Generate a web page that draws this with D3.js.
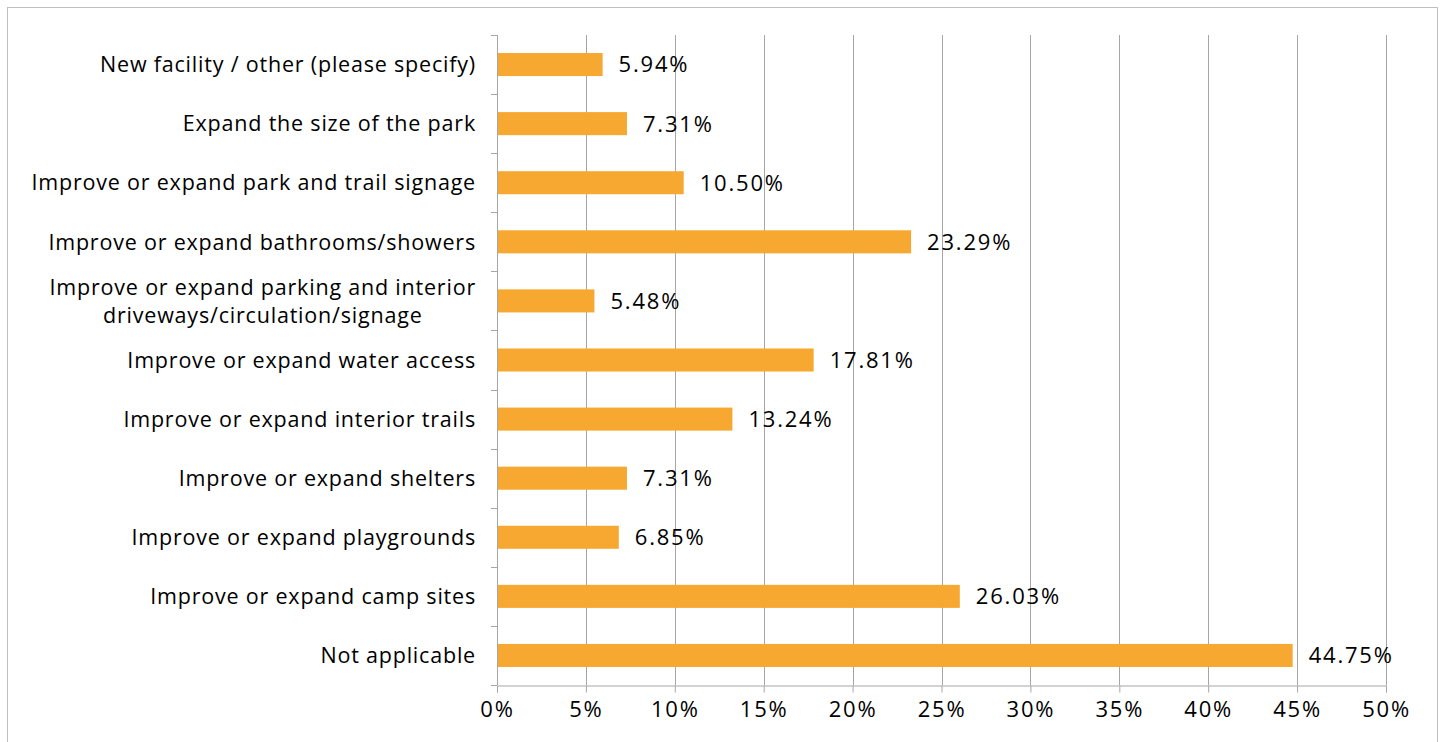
<!DOCTYPE html>
<html>
<head>
<meta charset="utf-8">
<script src="https://cdn.jsdelivr.net/npm/d3@7"></script>
<style>
  html, body { margin: 0; padding: 0; background: #fff; }
  svg { display: block; }
  text { font-family: "Open Sans", "DejaVu Sans", sans-serif; fill: #000; }
</style>
</head>
<body>
<svg id="chart" width="1445" height="742"></svg>
<script>
// categorías de arriba a abajo
const categories = [
  'New facility / other (please specify)',
  'Expand the size of the park',
  'Improve or expand park and trail signage',
  'Improve or expand bathrooms/showers',
  'Improve or expand parking and interior\ndriveways/circulation/signage',
  'Improve or expand water access',
  'Improve or expand interior trails',
  'Improve or expand shelters',
  'Improve or expand playgrounds',
  'Improve or expand camp sites',
  'Not applicable'
];
const values = [5.94, 7.31, 10.50, 23.29, 5.48, 17.81, 13.24, 7.31, 6.85, 26.03, 44.75];
const xTicks = [0, 5, 10, 15, 20, 25, 30, 35, 40, 45, 50];

const W = 1445, H = 742;
const M = { left: 497, right: 59, top: 35, bottom: 57 };
const BAR = '#F7A830', GRID = '#A6A6A6';

const svg = d3.select('#chart');

// marco exterior
svg.append('rect').attr('x', 7.5).attr('y', 7.5).attr('width', 1430).attr('height', 760)
  .attr('fill', 'none').attr('stroke', '#BFBFBF').attr('stroke-width', 1);

const x = d3.scaleLinear().domain([0, 50]).range([M.left, W - M.right]);
const y = d3.scaleBand().domain(categories).range([M.top, H - M.bottom]).paddingInner(0.61).paddingOuter(0.305);

// rejilla vertical
svg.append('g').selectAll('line').data(xTicks.slice(1)).join('line')
  .attr('x1', d => Math.round(x(d)) + 0.5).attr('x2', d => Math.round(x(d)) + 0.5)
  .attr('y1', M.top).attr('y2', H - M.bottom)
  .attr('stroke', GRID).attr('stroke-width', 1);

// barras
svg.append('g').selectAll('rect').data(categories).join('rect')
  .attr('x', x(0)).attr('y', d => y(d))
  .attr('width', (d, i) => x(values[i]) - x(0))
  .attr('height', y.bandwidth())
  .attr('fill', BAR);

// etiquetas de valor
svg.append('g').selectAll('text').data(categories).join('text')
  .attr('x', (d, i) => x(values[i]) + 16)
  .attr('y', d => y(d) + y.bandwidth() / 2)
  .attr('dy', '0.36em')
  .style('font-size', '22px').style('letter-spacing', '1.8px')
  .text((d, i) => values[i].toFixed(2) + '%');

// eje x
const gx = svg.append('g').attr('transform', `translate(0,${H - M.bottom + 0.5})`)
  .call(d3.axisBottom(x).tickValues(xTicks).tickFormat(d => d + '%').tickSizeOuter(0).tickSize(7));
gx.select('.domain').attr('stroke', GRID);
gx.selectAll('.tick line').attr('stroke', GRID);
gx.selectAll('.tick text').style('font-size', '22px').style('letter-spacing', '1.8px')
  .attr('y', 16).attr('font-family', null);

// eje y (ticks entre categorías)
const yEdges = d3.range(categories.length + 1).map(i => M.top + i * ((H - M.bottom - M.top) / categories.length));
const gy = svg.append('g');
gy.append('line').attr('x1', M.left + 0.5).attr('x2', M.left + 0.5)
  .attr('y1', M.top).attr('y2', H - M.bottom).attr('stroke', GRID);
gy.selectAll('line.t').data(yEdges).join('line').attr('class', 't')
  .attr('x1', M.left - 6).attr('x2', M.left)
  .attr('y1', d => Math.round(d) + 0.5).attr('y2', d => Math.round(d) + 0.5)
  .attr('stroke', GRID);

// etiquetas de categoría
const LX = M.left - 21;
const lbl = svg.append('g').selectAll('text').data(categories).join('text')
  .attr('x', LX)
  .attr('y', d => y(d) + y.bandwidth() / 2)
  .attr('text-anchor', 'end')
  .style('font-size', '21.5px').style('letter-spacing', '0.8px');
lbl.each(function (d) {
  const lines = d.split('\n');
  const t = d3.select(this);
  lines.forEach((ln, k) => {
    t.append('tspan').attr('x', LX)
      .attr('dy', k === 0 ? (0.36 - (lines.length - 1) * 0.65) + 'em' : '1.3em')
      .text(ln);
  });
});
// bloque de dos líneas centrado
lbl.filter(d => d.includes('\n')).each(function () {
  const w = this.getBBox().width;
  d3.select(this).attr('text-anchor', 'middle')
    .selectAll('tspan').attr('x', LX - w / 2);
});
</script>
</body>
</html>
